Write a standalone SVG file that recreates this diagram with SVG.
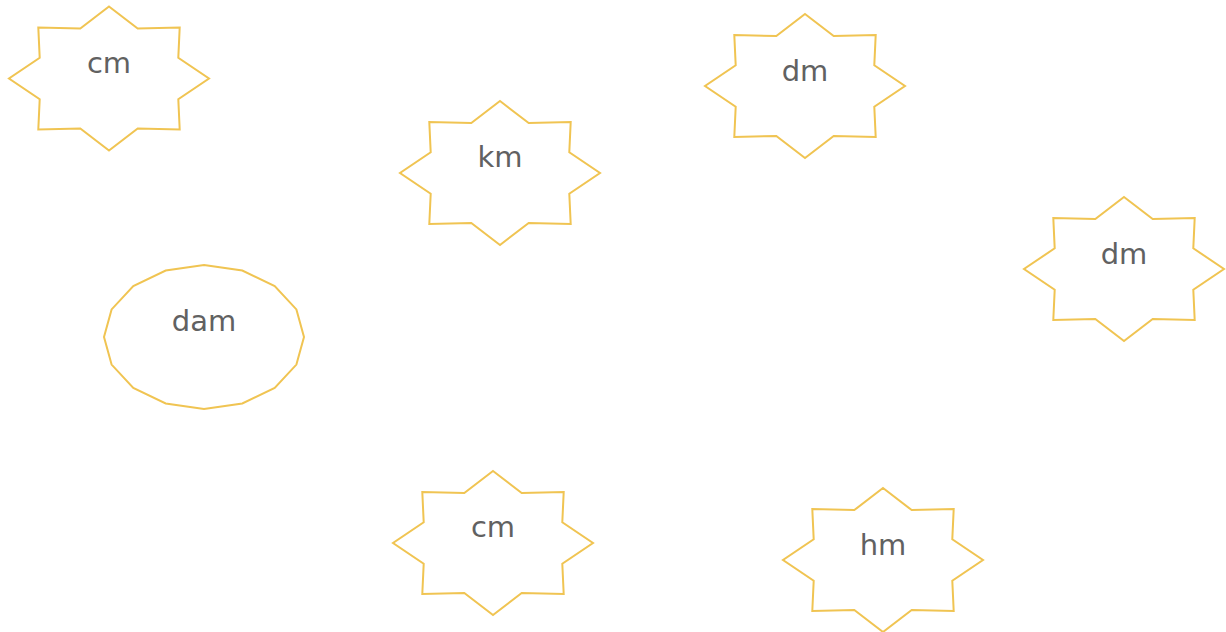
<svg xmlns="http://www.w3.org/2000/svg" xmlns:xlink="http://www.w3.org/1999/xlink" width="1226" height="632" viewBox="0 0 1226 632">
<style>
.shape{fill:#ffffff;stroke:#F0C452;stroke-width:2;}
.label{font-family:"DejaVu Sans",sans-serif;font-size:29px;fill:#616161;text-anchor:middle;}
</style>
<defs>
<polygon id="star" points="0,-72 28.7,-49.9 70.7,-50.9 69.3,-20.7 100,0 69.3,20.7 70.7,50.9 28.7,49.9 0,72 -28.7,49.9 -70.7,50.9 -69.3,20.7 -100,0 -69.3,-20.7 -70.7,-50.9 -28.7,-49.9"/>
<polygon id="poly16" points="0,-72 38.3,-66.5 70.7,-50.9 92.4,-27.6 100,0 92.4,27.6 70.7,50.9 38.3,66.5 0,72 -38.3,66.5 -70.7,50.9 -92.4,27.6 -100,0 -92.4,-27.6 -70.7,-50.9 -38.3,-66.5"/>
</defs>
<rect width="1226" height="632" fill="#ffffff"/>
<g id="connectors"></g>
<g id="node-cm1"><use xlink:href="#star" class="shape" x="109" y="78.5"/><text class="label" x="109" y="73">cm</text></g>
<g id="node-km"><use xlink:href="#star" class="shape" x="500" y="173"/><text class="label" x="500" y="167">km</text></g>
<g id="node-dm1"><use xlink:href="#star" class="shape" x="805" y="86"/><text class="label" x="805" y="81">dm</text></g>
<g id="node-dm2"><use xlink:href="#star" class="shape" x="1124" y="269"/><text class="label" x="1124" y="264">dm</text></g>
<g id="node-dam"><use xlink:href="#poly16" class="shape" x="204" y="337"/><text class="label" x="204" y="331">dam</text></g>
<g id="node-cm2"><use xlink:href="#star" class="shape" x="493" y="543"/><text class="label" x="493" y="537">cm</text></g>
<g id="node-hm"><use xlink:href="#star" class="shape" x="883" y="560"/><text class="label" x="883" y="555">hm</text></g>
</svg>
